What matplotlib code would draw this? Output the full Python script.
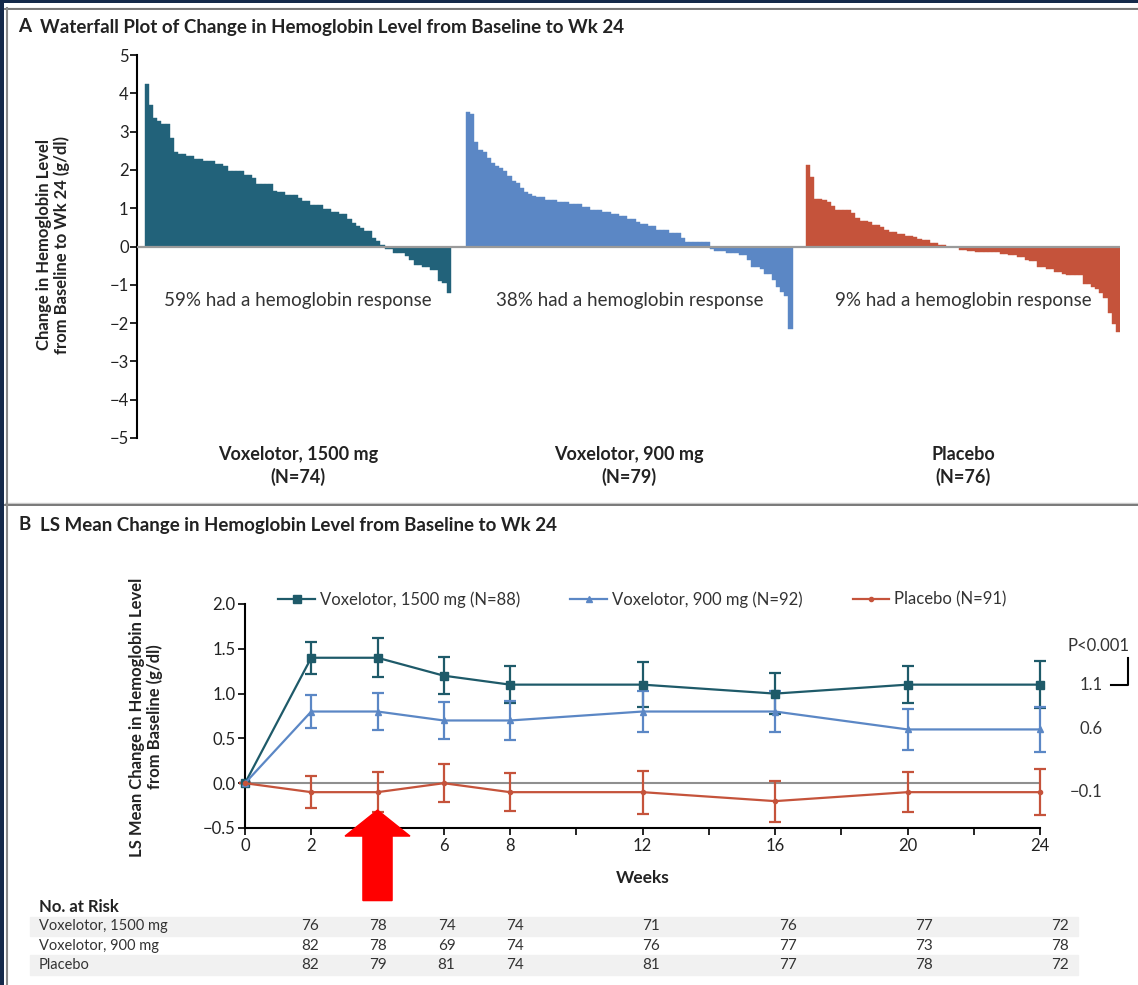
import numpy as np
import matplotlib.pyplot as plt
from matplotlib.patches import Rectangle, FancyArrow
from matplotlib.lines import Line2D

plt.rcParams['font.family'] = ['Lato', 'DejaVu Sans']

# ---- data: waterfall (change in Hb, g/dl, sorted) ----
hb_1500 = [4.24, 3.69, 3.36, 3.28, 3.19, 3.19, 2.82, 2.47, 2.41, 2.41, 2.37, 2.37, 2.28, 2.28,
           2.22, 2.22, 2.22, 2.16, 2.16, 2.09, 1.98, 1.98, 1.98, 1.96, 1.87, 1.87, 1.78, 1.62,
           1.62, 1.62, 1.62, 1.45, 1.41, 1.41, 1.34, 1.34, 1.34, 1.27, 1.18, 1.18, 1.09, 1.09,
           1.09, 0.97, 0.97, 0.91, 0.91, 0.84, 0.84, 0.73, 0.62, 0.54, 0.47, 0.41, 0.41, 0.22,
           0.15, 0.03, -0.07, -0.07, -0.17, -0.17, -0.17, -0.26, -0.34, -0.47, -0.47, -0.54,
           -0.54, -0.62, -0.62, -0.91, -0.95, -1.22]
hb_900 = [3.52, 3.45, 2.72, 2.53, 2.46, 2.31, 2.18, 2.11, 2.05, 1.98, 1.84, 1.71, 1.66, 1.53,
          1.43, 1.36, 1.32, 1.28, 1.28, 1.22, 1.22, 1.22, 1.16, 1.16, 1.16, 1.10, 1.10, 1.10,
          1.02, 1.02, 0.96, 0.96, 0.96, 0.91, 0.91, 0.84, 0.84, 0.80, 0.80, 0.73, 0.73, 0.65,
          0.59, 0.59, 0.54, 0.54, 0.44, 0.44, 0.44, 0.34, 0.34, 0.34, 0.22, 0.11, 0.11, 0.11,
          0.11, 0.11, 0.11, -0.06, -0.13, -0.13, -0.13, -0.16, -0.16, -0.16, -0.23, -0.23,
          -0.36, -0.53, -0.53, -0.59, -0.71, -0.71, -0.88, -1.05, -1.18, -1.28, -2.15]
hb_pbo = [2.14, 1.81, 1.25, 1.25, 1.21, 1.15, 1.06, 0.95, 0.95, 0.95, 0.95, 0.87, 0.74, 0.67,
          0.67, 0.63, 0.56, 0.56, 0.50, 0.44, 0.37, 0.37, 0.33, 0.33, 0.28, 0.28, 0.24, 0.20,
          0.16, 0.16, 0.09, 0.09, 0.04, 0.04, 0.0, 0.0, 0.0, -0.08, -0.08, -0.11, -0.11, -0.15,
          -0.15, -0.15, -0.15, -0.15, -0.15, -0.19, -0.19, -0.23, -0.23, -0.28, -0.28, -0.34,
          -0.39, -0.39, -0.53, -0.53, -0.59, -0.59, -0.66, -0.66, -0.71, -0.75, -0.75, -0.75,
          -0.75, -0.98, -0.98, -1.05, -1.11, -1.22, -1.35, -1.74, -2.02, -2.22]
group_labels = ['Voxelotor, 1500 mg\n(N=74)', 'Voxelotor, 900 mg\n(N=79)', 'Placebo\n(N=76)']
response_txt = ['59% had a hemoglobin response', '38% had a hemoglobin response',
                '9% had a hemoglobin response']

# ---- data: LS mean change over time ----
weeks = [0, 2, 4, 6, 8, 12, 16, 20, 24]
ls_1500 = [0, 1.4, 1.4, 1.2, 1.1, 1.1, 1.0, 1.1, 1.1]
err_1500 = [0, 0.18, 0.22, 0.21, 0.21, 0.25, 0.23, 0.21, 0.26]
ls_900 = [0, 0.8, 0.8, 0.7, 0.7, 0.8, 0.8, 0.6, 0.6]
err_900 = [0, 0.18, 0.21, 0.21, 0.22, 0.23, 0.23, 0.23, 0.25]
ls_pbo = [0, -0.1, -0.1, 0.0, -0.1, -0.1, -0.2, -0.1, -0.1]
err_pbo = [0, 0.18, 0.22, 0.21, 0.21, 0.24, 0.23, 0.22, 0.26]
legend_names = ['Voxelotor, 1500 mg (N=88)', 'Voxelotor, 900 mg (N=92)', 'Placebo (N=91)']
end_labels = ['1.1', '0.6', '\u22120.1']

# no. at risk
risk_weeks = [2, 4, 6, 8, 12, 16, 20, 24]
risk_rows = ['Voxelotor, 1500 mg', 'Voxelotor, 900 mg', 'Placebo']
risk_1500 = [76, 78, 74, 74, 71, 76, 77, 72]
risk_900 = [82, 78, 69, 74, 76, 77, 73, 78]
risk_pbo = [82, 79, 81, 74, 81, 77, 78, 72]

c_1500 = '#22627a'
c_900 = '#5b87c5'
c_pbo = '#c5533b'
c_line1500 = '#1e5a69'
txt = '#222222'

W, H = 1138, 985
fig = plt.figure(figsize=(W / 100, H / 100), dpi=100)
fig.patch.set_facecolor('#14294a')
fig.add_artist(Rectangle((4 / W, 0), 1, 1 - 3 / H, transform=fig.transFigure,
                         facecolor='white', edgecolor='none', zorder=-10))
# gray frame lines
for y in (1 - 7.5 / H, 1 - 503 / H):
    fig.add_artist(Line2D([5 / W, 1], [y, y], transform=fig.transFigure, color='#c9c9c9', lw=1.0))
    fig.add_artist(Line2D([5 / W, 1], [y - 1.8 / H, y - 1.8 / H], transform=fig.transFigure,
                          color='#6e6e6e', lw=1.3))
fig.add_artist(Line2D([6.5 / W, 6.5 / W], [0, 1 - 7.5 / H], transform=fig.transFigure,
                      color='#8a8a8a', lw=1.5))

# ================= Panel A =================
fig.text(18 / W, 1 - 27 / H, 'A', fontsize=13.5, fontweight='bold', color=txt, va='center')
fig.text(40 / W, 1 - 27 / H, 'Waterfall Plot of Change in Hemoglobin Level from Baseline to Wk 24',
         fontsize=13.5, fontweight='bold', color=txt, va='center')

axA = fig.add_axes([137 / W, 1 - 438 / H, (1120 - 137) / W, (438 - 55) / H])
gaps = [3.7, 3.2, 0]
groups = [hb_1500, hb_900, hb_pbo]
colors = [c_1500, c_900, c_pbo]
start = 0
centers = []
for vals, col, g in zip(groups, colors, gaps):
    x = start + np.arange(len(vals))
    axA.bar(x, vals, width=1.0, color=col, edgecolor=col, linewidth=0.3)
    centers.append(x.mean())
    last = x[-1]
    start = x[-1] + 1 + g
axA.axhline(0, color='#9a9a9a', lw=1.6, zorder=3)
axA.set_xlim(-2.4, last + 0.5)
axA.set_ylim(-5, 5)
axA.set_yticks(range(-5, 6))
axA.set_xticks([])
for s in ['top', 'right', 'bottom']:
    axA.spines[s].set_visible(False)
axA.spines['left'].set_linewidth(1.5)
axA.tick_params(axis='y', length=5, width=1.2, labelsize=12, labelcolor=txt, pad=1)
for cx, lab, resp in zip(centers, group_labels, response_txt):
    axA.text(cx, -1.4, resp, ha='center', va='center', fontsize=13.5, color='#333333')
    axA.text(cx, -5.2, lab, ha='center', va='top', fontsize=13, fontweight='bold',
             color=txt, linespacing=1.35)
fig.text(53 / W, 1 - 245 / H, 'Change in Hemoglobin Level\nfrom Baseline to Wk 24 (g/dl)',
         rotation=90, ha='center', va='center', fontsize=12, fontweight='bold', color=txt,
         linespacing=1.1)

# ================= Panel B =================
fig.text(18 / W, 1 - 525 / H, 'B', fontsize=13.5, fontweight='bold', color=txt, va='center')
fig.text(40 / W, 1 - 525 / H, 'LS Mean Change in Hemoglobin Level from Baseline to Wk 24',
         fontsize=13.5, fontweight='bold', color=txt, va='center')

axB = fig.add_axes([245 / W, 1 - 828 / H, (1040 - 245) / W, (828 - 604) / H])
axB.axhline(0, color='#8f8f8f', lw=1.5, zorder=1)
series = [(ls_1500, err_1500, c_line1500, 's', 6),
          (ls_900, err_900, c_900, '^', 5),
          (ls_pbo, err_pbo, c_pbo, 'o', 3)]
handles = []
for (m, e, col, mk, ms), name in zip(series, legend_names):
    axB.errorbar(weeks, m, yerr=e, color=col, lw=1.6, elinewidth=1.6, capsize=4.5,
                 capthick=1.6, marker=mk, ms=ms, zorder=3, clip_on=False)
    handles.append(Line2D([], [], color=col, lw=1.6, marker=mk, ms=ms))
axB.set_xlim(0, 24)
axB.set_ylim(-0.5, 2.0)
axB.set_xticks(range(0, 25, 2))
axB.set_xticklabels([str(w) if w in weeks else '' for w in range(0, 25, 2)])
axB.set_yticks([-0.5, 0, 0.5, 1.0, 1.5, 2.0])
axB.set_yticklabels(['\u22120.5', '0.0', '0.5', '1.0', '1.5', '2.0'])
for s in ['top', 'right']:
    axB.spines[s].set_visible(False)
axB.spines['left'].set_linewidth(1.5)
axB.spines['bottom'].set_linewidth(1.5)
axB.tick_params(length=5, width=1.2, labelsize=12, labelcolor=txt, pad=2)
axB.set_xlabel('Weeks', fontsize=12.5, fontweight='bold', color=txt, labelpad=12)
axB.legend(handles, legend_names, loc='center', bbox_to_anchor=(0.5, 1.02), ncol=3,
           frameon=False, fontsize=12, handlelength=2.2, columnspacing=3.0, handletextpad=0.3,
           labelcolor='#333333')
fig.text(146 / W, 1 - 717 / H, 'LS Mean Change in Hemoglobin Level\nfrom Baseline (g/dl)',
         rotation=90, ha='center', va='center', fontsize=12, fontweight='bold', color=txt,
         linespacing=1.1)

# end-of-study values and P-value bracket
for val, lab in zip([ls_1500[-1], ls_900[-1], ls_pbo[-1]], end_labels):
    axB.text(25.9, val, lab, ha='right', va='center', fontsize=12, color='#333333',
             clip_on=False)
axB.text(26.7, 1.53, 'P<0.001', ha='right', va='center', fontsize=12, color='#333333',
         clip_on=False)
axB.plot([26.15, 26.65, 26.65], [ls_1500[-1], ls_1500[-1], 1.40], color='black', lw=1.5,
         clip_on=False)

# red arrow pointing at week 4
axB.add_patch(FancyArrow(4, -1.31, 0, 1.01, width=0.88, head_width=1.96, head_length=0.29,
                         length_includes_head=True, color='#ff0000', zorder=10,
                         clip_on=False))

# ================= No. at risk =================
axT = fig.add_axes([0, 0, 1, 88 / H])
axT.set_xlim(-242 / 34.1, (W - 242) / 34.1)
axT.set_ylim(4.04, -0.518)
axT.axis('off')
axT.text(-5.95, 0, 'No. at Risk', fontsize=12, fontweight='bold', color=txt, va='center')
for r, (name, nums) in enumerate(zip(risk_rows, [risk_1500, risk_900, risk_pbo]), start=1):
    if r != 2:
        axT.axhspan(r - 0.5, r + 0.5, xmin=30 / W, xmax=1078 / W, color='#f1f1f1', zorder=0)
    axT.text(-5.95, r, name, fontsize=10.5, color='#333333', va='center')
    for w, n in zip(risk_weeks, nums):
        axT.text(w, r, str(n), fontsize=11, color='#333333', va='center', ha='center')

fig.savefig('out.png', dpi=100)
